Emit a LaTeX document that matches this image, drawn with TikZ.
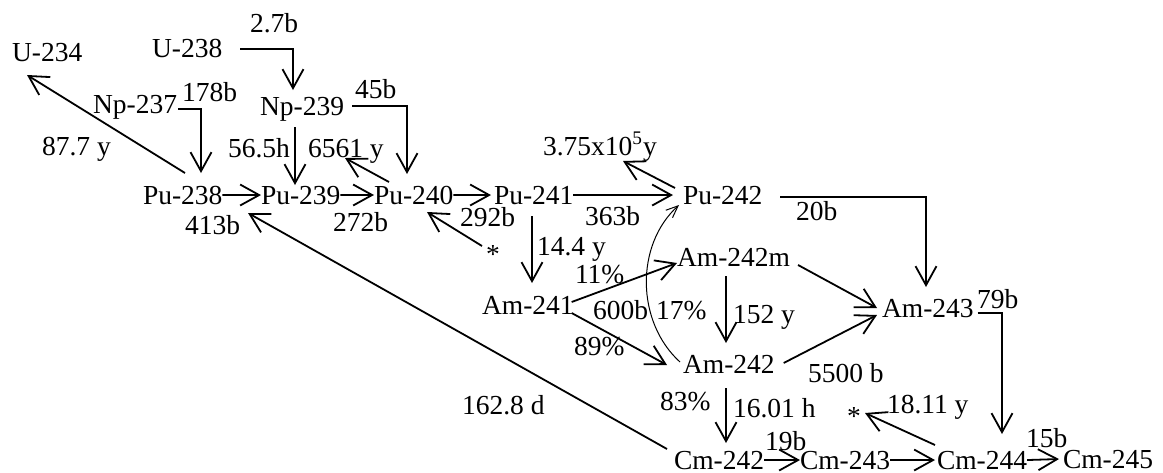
\documentclass[tikz,border=0pt]{standalone}
\usepackage{fontspec}
\setmainfont{Liberation Serif}
\usetikzlibrary{arrows.meta,calc}
\begin{document}
\begin{tikzpicture}[x=0.5pt,y=-0.5pt,
  lbl/.style={inner sep=0pt, outer sep=0pt, anchor=base west, font=\fontsize{13.75pt}{16pt}\selectfont},
  iso/.style={lbl},
  starlbl/.style={inner sep=0pt, outer sep=0pt, anchor=base, font=\fontsize{13.75pt}{16pt}\selectfont},
  arr/.style={line width=0.9pt, -{Straight Barb[length=9.5pt,width=10.5pt,line width=0.9pt]}},
  thinarr/.style={line width=0.5pt, -{Straight Barb[length=6pt,width=5pt,line width=0.5pt]}}
]
\useasboundingbox (0,0) rectangle (1163,472);
% isotopes
\node[iso] (u234) at (12,61) {U-234};
\node[iso] (u238) at (152,57) {U-238};
\node[iso] (np237) at (93,113) {Np-237};
\node[iso] (np239) at (260,115) {Np-239};
\node[iso] (pu238) at (143,204) {Pu-238};
\node[iso] (pu239) at (261,204) {Pu-239};
\node[iso] (pu240) at (374,204) {Pu-240};
\node[iso] (pu241) at (494,204) {Pu-241};
\node[iso] (pu242) at (683,204) {Pu-242};
\node[iso] (am241) at (482,314) {Am-241};
\node[iso] (am242m) at (677,266) {Am-242m};
\node[iso] (am242) at (683,373) {Am-242};
\node[iso] (am243) at (882,317) {Am-243};
\node[iso] (cm242) at (674,469) {Cm-242};
\node[iso] (cm243) at (800,469) {Cm-243};
\node[iso] (cm244) at (937,469) {Cm-244};
\node[iso] (cm245) at (1063,468) {Cm-245};
\node[starlbl] (star1) at (493,263) {*};
\node[starlbl] (star2) at (854,425) {*};
% labels
\node[lbl] (l27b) at (250,32) {2.7b};
\node[lbl] (l178b) at (182,101) {178b};
\node[lbl] (l45b) at (355,98) {45b};
\node[lbl] (l565h) at (228,157) {56.5h};
\node[lbl] (l6561) at (308,157) {6561 y};
\node[lbl] (l877) at (42,155) {87.7 y};
\node[lbl] (l413b) at (185,234) {413b};
\node[lbl] (l272b) at (333,231) {272b};
\node[lbl] (l292b) at (460,226) {292b};
\node[lbl] (l363b) at (585,225) {363b};
\node[lbl] (l375) at (543,155) {3.75x10\textsuperscript{5}y};
\node[lbl] (l20b) at (796,220) {20b};
\node[lbl] (l144y) at (537,255) {14.4 y};
\node[lbl] (l11) at (575,283) {11\%};
\node[lbl] (l600b) at (593,319) {600b};
\node[lbl] (l17) at (656,319) {17\%};
\node[lbl] (l89) at (574,355) {89\%};
\node[lbl] (l152y) at (733,323) {152 y};
\node[lbl] (l83) at (660,410) {83\%};
\node[lbl] (l1601) at (733,417) {16.01 h};
\node[lbl] (l19b) at (765,450) {19b};
\node[lbl] (l1628) at (462,414) {162.8 d};
\node[lbl] (l79b) at (977,308) {79b};
\node[lbl] (l5500) at (808,382) {5500 b};
\node[lbl] (l1811) at (887,413) {18.11 y};
\node[lbl] (l15b) at (1026,447) {15b};
% connectors
\draw[arr] ($(u238.base east)+(18,-8)$) -| ($(np239.base west)+(33,-25)$);
\draw[arr] ($(np237.base east)+(1,-4)$) -| ($(pu238.base west)+(58,-31)$);
\draw[arr] ($(np239.base east)+(8,-9)$) -| ($(pu240.base west)+(33,-30)$);
\draw[arr] ($(np239.base west)+(35,12)$) -- ($(pu239.base west)+(34,-19)$);
\draw[arr] (pu238.east) -- (pu239.west);
\draw[arr] (pu239.east) -- (pu240.west);
\draw[arr] (pu240.east) -- ($(pu241.west)+(-3,0)$);
\draw[arr] (pu241.east) -- ($(pu242.west)+(-10,0)$);
\draw[arr] ($(pu242.base east)+(18,-7)$) -| ($(am243.base west)+(44,-30)$);
\draw[arr] ($(pu240.base west)+(15,-22)$) -- ($(l6561.base west)+(37,1)$);
\draw[arr] ($(pu242.base west)+(-8,-16)$) -- ($(l375.base west)+(80,6)$);
\draw[arr] ($(pu238.base west)+(42,-31)$) -- ($(u234.base west)+(15,14)$);
\draw[arr] ($(cm242.base west)+(-7,-20)$) -- ($(pu239.base west)+(-13,9)$);
\draw[arr] ($(star1.base)+(-11,-17)$) -- ($(pu240.base west)+(53,8)$);
\draw[arr] ($(pu241.base west)+(38,12)$) -- ($(am241.base west)+(50,-31)$);
\draw[arr] ($(am241.base east)+(-2,-12)$) -- ($(am242m.base west)+(0,-3)$);
\draw[arr] ($(am241.base east)+(-2,-1)$) -- ($(am242.base west)+(-16,-8)$);
\draw[arr] ($(am242m.base west)+(49,10)$) -- ($(am242.base west)+(43,-30)$);
\draw[arr] ($(am242.base west)+(43,15)$) -- ($(cm242.base west)+(52,-26)$);
\draw[arr] ($(am242m.base east)+(8,-1)$) -- ($(am243.base west)+(-5,-9)$);
\draw[arr] ($(am242.base east)+(9,-10)$) -- ($(am243.base west)+(-5,-2)$);
\draw[arr] ($(am243.base east)+(4,-4)$) -| ($(cm244.base west)+(65,-35)$);
\draw[arr] (cm242.east) -- (cm243.west);
\draw[arr] (cm243.east) -- ($(cm244.west)+(-2,0)$);
\draw[arr] (cm244.east) -- ($(cm245.west)+(-4,0)$);
\draw[arr] ($(cm244.base west)+(-2,-24)$) -- ($(star2.base)+(11,-12)$);
\coordinate (arcA) at ($(am242.base west)+(-3,-11)$);
\coordinate (arcB) at ($(pu242.base west)+(-4,1)$);
\draw[thinarr] (arcA) .. controls ($(arcA)+(-44,-40)$) and ($(arcB)+(-44,40)$) .. (arcB);
\end{tikzpicture}
\end{document}
